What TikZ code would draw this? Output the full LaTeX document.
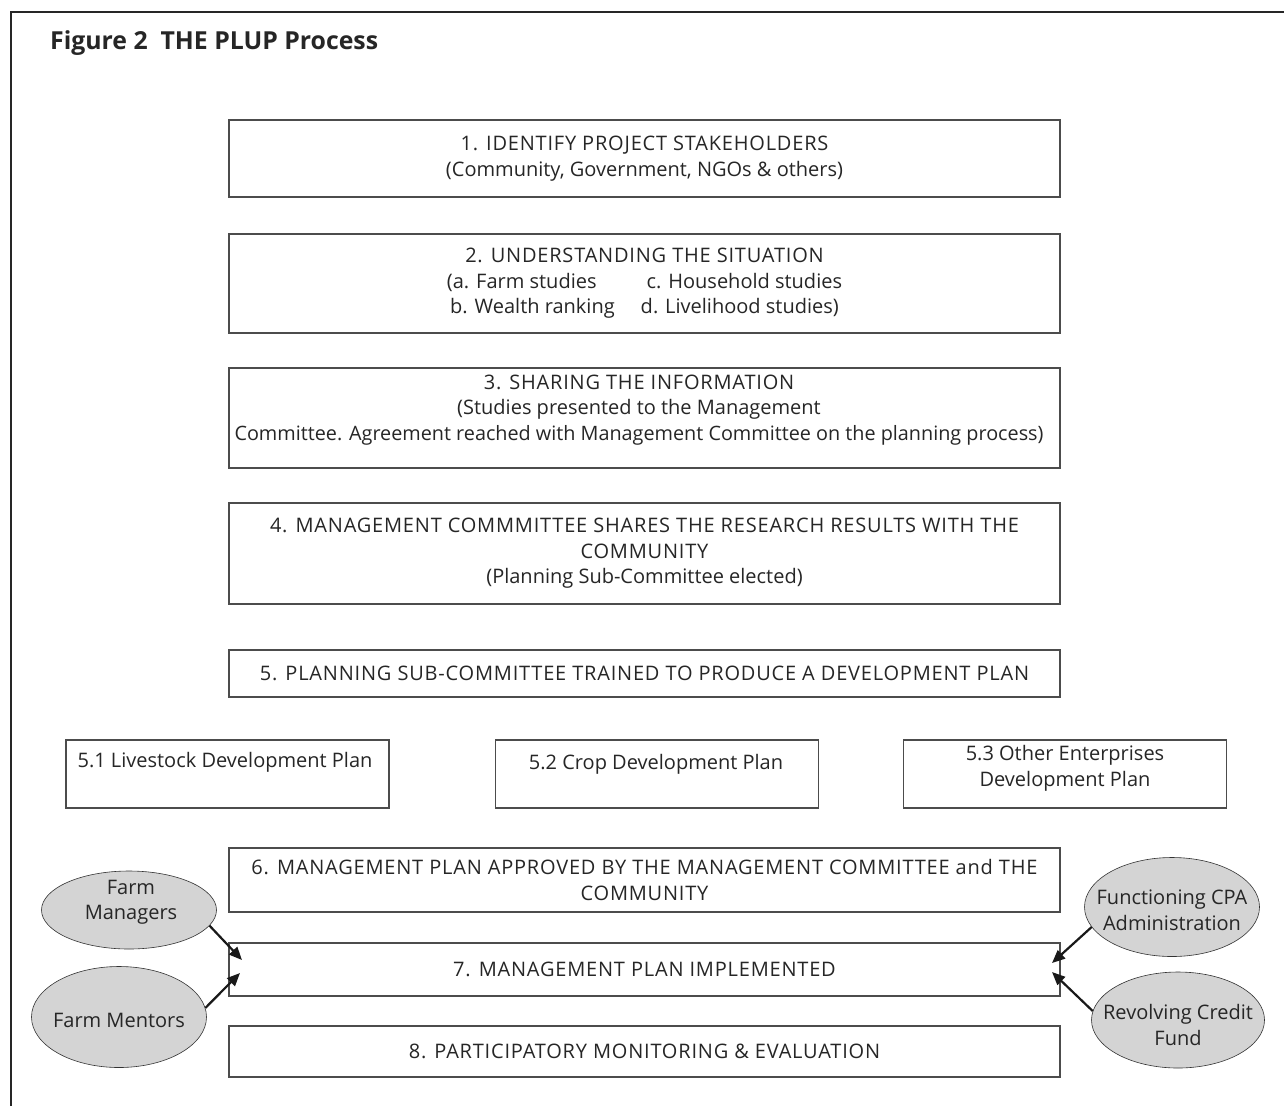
\documentclass[tikz,border=0pt]{standalone}
\usepackage{fontspec}
\setmainfont{Open Sans}
\newfontfamily\capsfont[LetterSpace=4]{Open Sans}
\usetikzlibrary{arrows.meta,shapes.geometric}
\newcommand\boxfont{\fontsize{20}{25.5}\selectfont}
\begin{document}
\begin{tikzpicture}[x=1pt,y=-1pt,
  stepbox/.style={draw=black!70, line width=1.1pt, minimum width=831pt, inner sep=0pt, align=center, font=\boxfont, text=black!85},
  subbox/.style={draw=black!70, line width=1.1pt, minimum width=323pt, minimum height=68pt, inner sep=0pt},
  txt/.style={align=center, font=\boxfont, text=black!85, inner sep=0pt},
  oval/.style={ellipse, draw=black!80, line width=0.6pt, fill=black!17, inner sep=0pt, align=center, font=\boxfont, text=black!85},
  arr/.style={line width=2.2pt, draw=black!90, -{Triangle[length=13pt,width=11pt]}}
]
\useasboundingbox (0,0) rectangle (1284,1106);
\fill[white] (0,0) rectangle (1284,1106);
% frame
\draw[line width=1.8pt, black!85] (11,1106) coordinate (fa) -- (11,12) coordinate (fb) -- (1284,12) coordinate (fc);
\node[anchor=west, font=\fontsize{24.8}{28}\selectfont\bfseries, text=black!85, inner sep=0pt] (title) at (50,43) {Figure 2\ \ THE PLUP Process};

\node[stepbox, minimum height=77pt] (b1) at (644.5,158.5) {{\capsfont 1. IDENTIFY PROJECT STAKEHOLDERS}\\(Community, Government, NGOs \& others)};
\node[stepbox, minimum height=99pt] (b2) at (644.5,283.5) {{\capsfont 2. UNDERSTANDING THE SITUATION}\\(a. Farm studies\hspace{50pt}c. Household studies\\b. Wealth ranking\hspace{26pt}d. Livelihood studies)};
\node[stepbox, minimum height=100pt] (b3) at (644.5,418) {};
\node[txt] (t3) at (639,410) {{\capsfont 3. SHARING THE INFORMATION}\\(Studies presented to the Management\\{\fontsize{19.8}{25.5}\selectfont Committee. Agreement reached with Management Committee on the planning process)}};
\node[stepbox, minimum height=101pt] (b4) at (644.5,553.5) {{\capsfont 4. MANAGEMENT COMMMITTEE SHARES THE RESEARCH RESULTS WITH THE}\\{\capsfont COMMUNITY}\\(Planning Sub-Committee elected)};
\node[stepbox, minimum height=47pt] (b5) at (644.5,673.5) {\capsfont 5. PLANNING SUB-COMMITTEE TRAINED TO PRODUCE A DEVELOPMENT PLAN};

\node[subbox] (b51) at (227.5,774) {};
\node[txt] (t51) at (225,762) {5.1 Livestock Development Plan};
\node[subbox] (b52) at (657,774) {};
\node[txt] (t52) at (656,764) {5.2 Crop Development Plan};
\node[subbox] (b53) at (1065,774) {};
\node[txt] (t53) at (1065,768.5) {5.3 Other Enterprises\\Development Plan};

\node[stepbox, minimum height=64pt] (b6) at (644.5,880) {{\capsfont 6. MANAGEMENT PLAN APPROVED BY THE MANAGEMENT COMMITTEE and THE}\\{\capsfont COMMUNITY}};
\node[stepbox, minimum height=53pt] (b7) at (644.5,969.5) {\capsfont 7. MANAGEMENT PLAN IMPLEMENTED};
\node[stepbox, minimum height=51pt] (b8) at (644.5,1051.5) {\capsfont 8. PARTICIPATORY MONITORING \& EVALUATION};

\node[oval, minimum width=175pt, minimum height=78pt] (fmgr) at (129,910) {};
\node[txt] (tfmgr) at (131,902) {Farm\\Managers};
\node[oval, minimum width=175pt, minimum height=101pt] (fmen) at (119,1017) {};
\node[txt] (tfmen) at (119,1020) {Farm Mentors};
\node[oval, minimum width=175pt, minimum height=99pt] (cpa) at (1172,907) {};
\node[txt] (tcpa) at (1172,910) {Functioning CPA\\Administration};
\node[oval, minimum width=173pt, minimum height=96pt] (rcf) at (1178,1020) {};
\node[txt] (trcf) at (1178,1025) {Revolving Credit\\Fund};

\coordinate (p1) at (242,960);
\coordinate (p2) at (240,973);
\coordinate (p3) at (1052,963);
\coordinate (p4) at (1052,972);
\draw[arr] (fmgr.-11) -- (p1);
\draw[arr] (fmen.6) -- (p2);
\draw[arr] (cpa.-166) -- (p3);
\draw[arr] (rcf.174) -- (p4);
\end{tikzpicture}
\end{document}
